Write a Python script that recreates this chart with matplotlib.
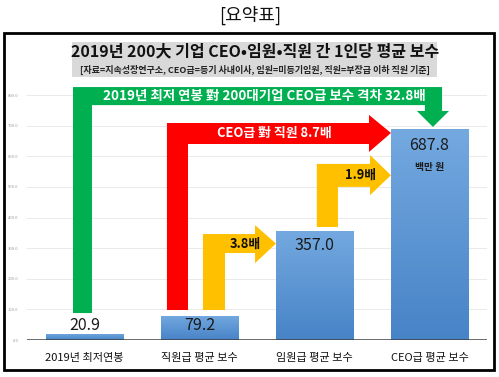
import matplotlib
matplotlib.use("Agg")
import matplotlib.pyplot as plt
import numpy as np
from matplotlib.patches import Polygon, Rectangle
from matplotlib.colors import LinearSegmentedColormap

plt.rcParams['font.family'] = ['Noto Sans CJK KR', 'DejaVu Sans']

categories = ["2019년 최저연봉", "직원급 평균 보수", "임원급 평균 보수", "CEO급 평균 보수"]
values = [20.9, 79.2, 357.0, 687.8]
value_labels = ["20.9", "79.2", "357.0", "687.8"]
yticks = [0, 100, 200, 300, 400, 500, 600, 700, 800]
ratio_texts = ["2019년 최저 연봉 對 200대기업 CEO급 보수 격차 32.8배",
               "CEO급 對 직원 8.7배", "3.8배", "1.9배"]
unit_text = "백만 원"

W, H = 499, 377
fig = plt.figure(figsize=(W / 100, H / 100), dpi=100)
ax = fig.add_axes([27 / W, 37 / H, 460 / W, 260.3 / H])
ax.set_xlim(-0.5, 3.5)
ax.set_ylim(0, 850)

# gridlines
for t in yticks[1:]:
    ax.axhline(t, color="#e6e6e6", lw=0.6, zorder=0)
ax.set_yticks(yticks)
ax.set_yticklabels([f"{t:.1f}" for t in yticks], fontsize=3, color="#9a9a9a")
ax.tick_params(axis="y", length=0, pad=6)
ax.set_xticks([])
for s in ax.spines.values():
    s.set_visible(False)
ax.axhline(0, color="#404040", lw=1.8, zorder=5)

# bars with gradient
cmap = LinearSegmentedColormap.from_list("bl", ["#4783c7", "#74a9e0"])
bw = 0.67
bars = ax.bar(range(len(values)), values, width=bw, color="none", zorder=2)
grad = np.linspace(0, 1, 256).reshape(-1, 1)
for b in bars:
    x0, y0 = b.get_x(), b.get_y()
    im = ax.imshow(grad, cmap=cmap, origin="lower", aspect="auto",
                   extent=[x0, x0 + b.get_width(), y0, y0 + b.get_height()], zorder=2)
    im.set_clip_path(b)

# value labels
ax.text(0, values[0] + 25, value_labels[0], ha="center", va="center", fontsize=11.5, color="#1a1a1a", zorder=6)
offs = [0, 33, 48, 53]
for i in range(1, 4):
    ax.text(i, values[i] - offs[i], value_labels[i], ha="center", va="center",
            fontsize=11.5, color="#1a1a1a", zorder=6)
ax.text(3, values[3] - 123, unit_text, ha="center", va="center", fontsize=7,
        fontweight="bold", color="#1a1a1a", zorder=6)

# category labels
for i, c in enumerate(categories):
    ax.text(i, -58, c, ha="center", va="center", fontsize=8, color="#111111")

green, red, orange = "#00b050", "#ff0000", "#ffc000"

def right_bent(xl, xr, yb, bt, bb, hb, ht, hbot, tx, ty):
    return [(xl, yb), (xl, bt), (hb, bt), (hb, ht), (tx, ty), (hb, hbot),
            (hb, bb), (xr, bb), (xr, yb)]

# green arrow (turns down onto CEO bar)
gv = [(-0.1, 88), (-0.1, 826), (3.109, 826), (3.109, 748), (3.17, 748),
      (3.03, values[3] + 8), (2.89, 748), (2.96, 748), (2.96, 767),
      (0.065, 767), (0.065, 88)]
ax.add_patch(Polygon(gv, closed=True, color=green, lw=0, zorder=3))
ax.text(1.565, 796, ratio_texts[0], ha="center", va="center", fontsize=9.7,
        fontweight="bold", color="white", zorder=6)

# red arrow
rv = right_bent(0.717, 0.9, 98, 708.6, 640, 2.474, 735, 614, 3 - bw / 2, 676)
ax.add_patch(Polygon(rv, closed=True, color=red, lw=0, zorder=3))
ax.text(1.648, 676, ratio_texts[1], ha="center", va="center", fontsize=9.3,
        fontweight="bold", color="white", zorder=6)

# orange arrows
o1 = right_bent(1.03, 1.222, 98, 346, 284, 1.483, 375, 251, 2 - bw / 2, 315)
ax.add_patch(Polygon(o1, closed=True, color=orange, lw=0, zorder=3))
ax.text(1.396, 315, ratio_texts[2], ha="center", va="center", fontsize=9.3,
        fontweight="bold", color="#111111", zorder=6)
o2 = right_bent(2.02, 2.204, values[2] + 12, 575, 500, 2.483, 604, 473, 3 - bw / 2, 538)
ax.add_patch(Polygon(o2, closed=True, color=orange, lw=0, zorder=3))
ax.text(2.404, 540, ratio_texts[3], ha="center", va="center", fontsize=9.3,
        fontweight="bold", color="#111111", zorder=6)

# outer frame & header
fig.patches.append(Rectangle((4 / W, 7 / H), 490 / W, 337 / H, transform=fig.transFigure,
                             fill=False, ec="black", lw=2))
fig.patches.append(Rectangle((72 / W, 1 - 77 / H), 365 / W, 35 / H, transform=fig.transFigure,
                             fc="#d9d9d9", ec="none"))
fig.text(250 / W, 1 - 15 / H, "[요약표]", ha="center", va="center", fontsize=13, color="#111111")
fig.text(255 / W, 1 - 51 / H, "2019년 200大 기업 CEO•임원•직원 간 1인당 평균 보수",
         ha="center", va="center", fontsize=11.5, fontweight="heavy", color="#111111")
fig.text(255 / W, 1 - 69.5 / H,
         "[자료=지속성장연구소, CEO급=등기 사내이사, 임원=미등기임원, 직원=부장급 이하 직원 기준]",
         ha="center", va="center", fontsize=6.5, fontweight="bold", color="#222222")

fig.savefig("out.png", dpi=100)
